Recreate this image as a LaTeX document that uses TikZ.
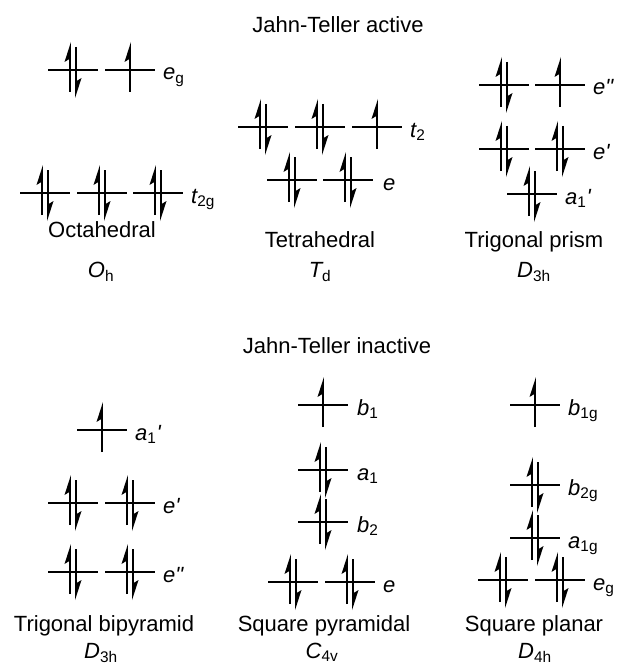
\documentclass[tikz,border=0pt]{standalone}
\usepackage{fontspec}
\setmainfont{Liberation Sans}
\newfontfamily\lab{Liberation Sans}
\tikzset{
  lvl/.style={line width=1.9pt},
  elec/.style={line width=1.9pt},
  olab/.style={anchor=base west, inner sep=0pt, font=\lab\fontsize{22}{24}\selectfont\itshape},
  ttl/.style={anchor=base, inner sep=0pt, font=\lab\fontsize{22}{24}\selectfont},
}
\newcommand\eup[2]{\draw[elec] (#1,#2+22) -- (#1,#2-18); \fill (#1+0.95,#2-28) -- (#1-5.5,#2-8) -- (#1+0.95,#2-12) -- cycle;}
\newcommand\edn[2]{\draw[elec] (#1,#2-23) -- (#1,#2+18); \fill (#1-0.95,#2+28) -- (#1+5.5,#2+8) -- (#1-0.95,#2+12) -- cycle;}
\newcommand\epair[2]{\eup{#1-3}{#2}\edn{#1+3}{#2}}
\newcommand\lev[2]{\draw[lvl] (#1-25,#2) -- (#1+25,#2);}
\newcommand\sub[1]{\textsubscript{\upshape #1}}
\begin{document}
\begin{tikzpicture}[x=1pt,y=-1pt]
\useasboundingbox (0,0) rectangle (617,666);
% titles
\node[ttl] (jta) at (338,33) {Jahn-Teller active};
\node[ttl] (jti) at (337,353) {Jahn-Teller inactive};
% ---------- Octahedral
\lev{73}{70}\lev{130}{70}\epair{73}{70}\eup{130}{70}
\node[olab] (oeg) at (163,80) {e\sub{g}};
\lev{45}{193}\lev{102}{193}\lev{158}{193}
\epair{45}{193}\epair{102}{193}\epair{158}{193}
\node[olab] (ot2g) at (191,203) {t\sub{2g}};
\node[ttl] (oct) at (102,237) {Octahedral};
\node[ttl] (ohs) at (101,277) {\itshape O\sub{h}};
% ---------- Tetrahedral
\lev{263}{127}\lev{320}{127}\lev{377}{127}
\epair{263}{127}\epair{320}{127}\eup{377}{127}
\node[olab] (tt2) at (410,137) {t\sub{2}};
\lev{292}{180}\lev{348}{180}
\epair{292}{180}\epair{348}{180}
\node[olab] (te) at (383,190) {e};
\node[ttl] (tet) at (320,247) {Tetrahedral};
\node[ttl] (tds) at (320,277) {\itshape T\sub{d}};
% ---------- Trigonal prism
\lev{504}{85}\lev{560}{85}\epair{504}{85}\eup{560}{85}
\node[olab] (pe2) at (593,95) {e"};
\lev{504}{149}\lev{560}{149}\epair{504}{149}\epair{560}{149}
\node[olab] (pe1) at (593,159) {e'};
\lev{532}{194}\epair{532}{194}
\node[olab] (pa1) at (565,204) {a\sub{1}'};
\node[ttl] (tp) at (534,247) {Trigonal prism};
\node[ttl] (tps) at (534,277) {\itshape D\sub{3h}};
% ---------- Trigonal bipyramid
\lev{102}{430}\eup{102}{430}
\node[olab] (ba1) at (135,440) {a\sub{1}'};
\lev{73}{503}\lev{130}{503}\epair{73}{503}\epair{130}{503}
\node[olab] (be1) at (163,513) {e'};
\lev{73}{572}\lev{130}{572}\epair{73}{572}\epair{130}{572}
\node[olab] (be2) at (163,582) {e"};
\node[ttl] (tbp) at (104,631) {Trigonal bipyramid};
\node[ttl] (tbps) at (101,658) {\itshape D\sub{3h}};
% ---------- Square pyramidal
\lev{323}{405}\eup{323}{405}
\node[olab] (sb1) at (357,415) {b\sub{1}};
\lev{323}{470}\epair{323}{470}
\node[olab] (sa1) at (357,480) {a\sub{1}};
\lev{323}{522}\epair{323}{522}
\node[olab] (sb2) at (357,532) {b\sub{2}};
\lev{293}{582}\lev{350}{582}\epair{293}{582}\epair{350}{582}
\node[olab] (se) at (383,592) {e};
\node[ttl] (sqp) at (324,631) {Square pyramidal};
\node[ttl] (sqps) at (322,658) {\itshape C\sub{4v}};
% ---------- Square planar
\lev{535}{405}\eup{535}{405}
\node[olab] (qb1) at (568,415) {b\sub{1g}};
\lev{535}{485}\epair{535}{485}
\node[olab] (qb2) at (568,495) {b\sub{2g}};
\lev{535}{538}\epair{535}{538}
\node[olab] (qa1) at (568,548) {a\sub{1g}};
\lev{503}{580}\lev{560}{580}\epair{503}{580}\epair{560}{580}
\node[olab] (qeg) at (593,590) {e\sub{g}};
\node[ttl] (sqpl) at (534,631) {Square planar};
\node[ttl] (sqpls) at (535,658) {\itshape D\sub{4h}};
\end{tikzpicture}
\end{document}
